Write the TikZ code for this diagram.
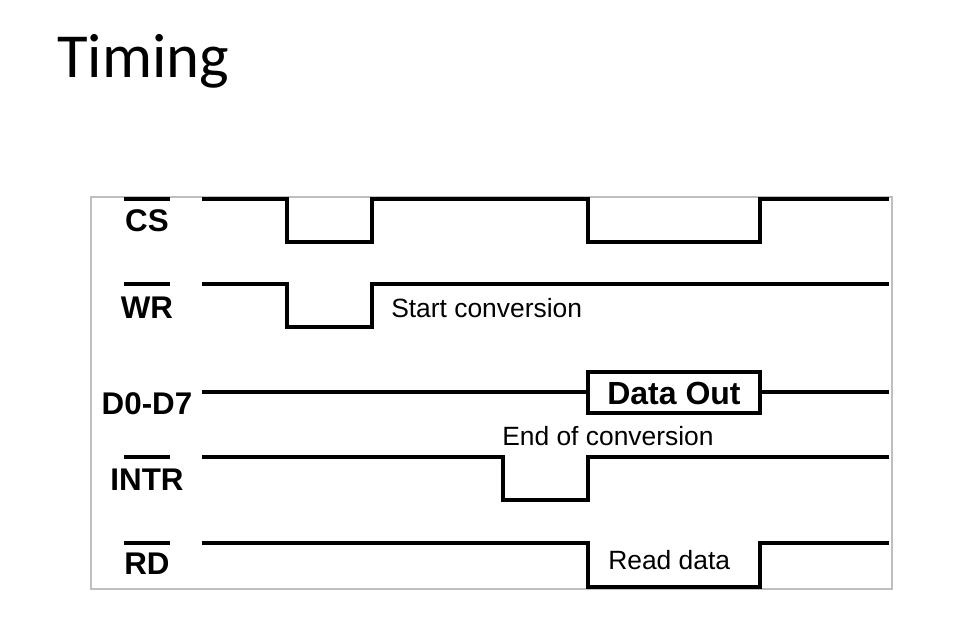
\documentclass[tikz,border=0pt]{standalone}
\usepackage{fontspec}
\setmainfont{Liberation Sans}
\newfontfamily\titlefont{Carlito}
\begin{document}
\begin{tikzpicture}[x=0.75pt,y=-0.75pt,
  wave/.style={line width=3pt,black,line join=miter,line cap=butt},
  frame/.style={draw=black!25,line width=1.2pt},
  sig/.style={font=\fontsize{23.5}{26}\selectfont\bfseries,inner sep=0pt,anchor=base},
  note/.style={font=\fontsize{19.8}{22}\selectfont,inner sep=0pt,anchor=base west},
  obar/.style={line width=2.6pt,black}]
\useasboundingbox (0,0) rectangle (967,640);
\node[font=\titlefont\fontsize{47}{52}\selectfont,inner sep=0pt,anchor=base west] (title) at (57,77) {Timing};
\draw[frame] (91,197) rectangle (892,589);
% labels
\node[sig] (cs) at (147,231) {CS};
\node[sig] (wr) at (147,318) {WR};
\node[sig] (d) at (147,414) {D0-D7};
\node[sig] (intr) at (147,490) {INTR};
\node[sig] (rd) at (147,574) {RD};
\draw[obar] (124,199) -- (170,199);
\draw[obar] (124,284) -- (170,284);
\draw[obar] (124,457) -- (170,457);
\draw[obar] (124,543) -- (170,543);
% CS
\draw[wave] (202,199) -- (287,199) -- (287,242) -- (372,242) -- (372,199) -- (588,199) -- (588,242) -- (760,242) -- (760,199) -- (889,199);
% WR
\draw[wave] (202,284) -- (287,284) -- (287,327) -- (372,327) -- (372,284) -- (889,284);
\node[note] (sc) at (391,317) {Start conversion};
% D0-D7
\node[draw,line width=3pt,inner sep=0pt,minimum height=41*0.75pt,minimum width=172*0.75pt] (box) at (674,392) {};
\node[font=\fontsize{24}{26}\selectfont\bfseries,inner sep=0pt,anchor=base] (dout) at (674,404) {Data Out};
\draw[wave] (202,392) -- (box.west);
\draw[wave] (box.east) -- (889,392);
% INTR
\node[note] (eoc) at (502,445) {End of conversion};
\draw[wave] (202,457) -- (503,457) -- (503,500) -- (588,500) -- (588,457) -- (889,457);
% RD
\draw[wave] (202,543) -- (588,543) -- (588,587) -- (760,587) -- (760,543) -- (889,543);
\node[note] (rdn) at (608,569) {Read data};
\end{tikzpicture}
\end{document}
